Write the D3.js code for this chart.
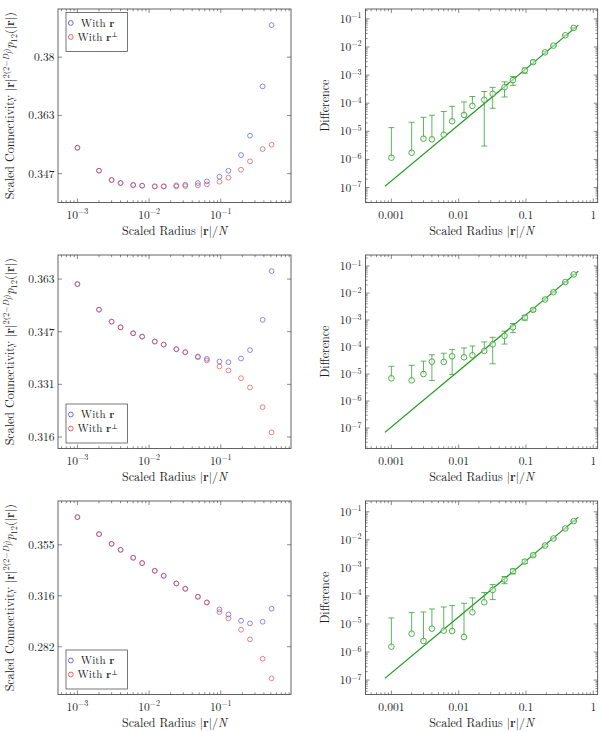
<!DOCTYPE html>
<html>
<head>
<meta charset="utf-8">
<script src="https://cdn.jsdelivr.net/npm/d3@7"></script>
<style>
  body { margin: 0; background: #fff; }
  text { font-family: "Latin Modern Roman", "Liberation Serif", "DejaVu Serif", serif; fill: #222; }
</style>
</head>
<body>
<div id="chart"></div>
<script>
// scaled radius |r|/N, shared by every panel
const radius = [0.001, 0.002, 0.003, 0.004, 0.006, 0.008, 0.012, 0.016, 0.024, 0.032,
                0.048, 0.064, 0.096, 0.128, 0.192, 0.256, 0.384, 0.512];

// scaled connectivity, row 1
const connR1 = [0.35392, 0.34756, 0.34500, 0.34419, 0.34364, 0.34346, 0.34328, 0.34328, 0.34355, 0.34373,
                0.34419, 0.34464, 0.34591, 0.34756, 0.35188, 0.35730, 0.37150, 0.38994];
const connPerp1 = [0.35392, 0.34756, 0.34500, 0.34419, 0.34364, 0.34346, 0.34328, 0.34328, 0.34328, 0.34337,
                   0.34355, 0.34382, 0.34454, 0.34564, 0.34783, 0.35013, 0.35355, 0.35476];
// row 2
const connR2 = [0.36149, 0.35349, 0.34981, 0.34809, 0.34627, 0.34526, 0.34376, 0.34286, 0.34147, 0.34058,
                0.33929, 0.33861, 0.33782, 0.33762, 0.33871, 0.34121, 0.35037, 0.36562];
const connPerp2 = [0.36149, 0.35349, 0.34981, 0.34809, 0.34627, 0.34526, 0.34376, 0.34286, 0.34147, 0.34058,
                   0.33909, 0.33812, 0.33635, 0.33518, 0.33293, 0.33022, 0.32461, 0.31751];
// row 3
const connR3 = [0.37768, 0.36346, 0.35561, 0.35083, 0.34455, 0.34044, 0.33459, 0.33083, 0.32515, 0.32126,
                0.31552, 0.31150, 0.30662, 0.30318, 0.29888, 0.29709, 0.29821, 0.30708];
const connPerp3 = [0.37768, 0.36346, 0.35561, 0.35083, 0.34455, 0.34044, 0.33459, 0.33083, 0.32515, 0.32126,
                   0.31552, 0.31150, 0.30479, 0.30046, 0.29287, 0.28654, 0.27431, 0.26240];

// difference and its error bars
const diff1 = [1.15e-6, 1.73e-6, 5.47e-6, 5.18e-6, 7.6e-6, 2.28e-5, 3.83e-5, 8.03e-5, 1.32e-4, 2.16e-4,
               3.72e-4, 6.63e-4, 1.47e-3, 2.91e-3, 6.45e-3, 1.12e-2, 2.61e-2, 4.77e-2];
const diffErr1 = [1.24e-5, 1.92e-5, 2.6e-5, 3.2e-5, 4.3e-5, 5.5e-5, 7.3e-5, 9.3e-5, 1.29e-4, 1.5e-4,
                  2.05e-4, 2.3e-4, 3.0e-4, 3.5e-4, 4.5e-4, 5e-4, 7e-4, 9e-4];
const diff2 = [6.95e-6, 5.85e-6, 1.0e-5, 2.88e-5, 2.8e-5, 4.55e-5, 4.18e-5, 4.96e-5, 7.18e-5, 1.27e-4,
               2.59e-4, 5.43e-4, 1.24e-3, 2.39e-3, 5.78e-3, 1.08e-2, 2.55e-2, 4.91e-2];
const diffErr2 = [1.24e-5, 1.52e-5, 2.0e-5, 2.3e-5, 3.1e-5, 3.6e-5, 5.1e-5, 6.0e-5, 8.3e-5, 1.03e-4,
                  1.3e-4, 2.0e-4, 2.5e-4, 3e-4, 4e-4, 5e-4, 7e-4, 9e-4];
const diff3 = [1.55e-6, 4.52e-6, 2.47e-6, 6.81e-6, 5.78e-6, 5.62e-6, 3.43e-6, 2.61e-5, 5.94e-5, 1.64e-4,
               3.83e-4, 7.6e-4, 1.68e-3, 2.83e-3, 6.28e-3, 1.12e-2, 2.54e-2, 4.64e-2];
const diffErr3 = [1.49e-5, 2.09e-5, 2.43e-5, 2.75e-5, 3.47e-5, 3.95e-5, 5.13e-5, 5.9e-5, 7.3e-5, 9e-5,
                  1.1e-4, 1.5e-4, 2.5e-4, 3e-4, 4e-4, 5e-4, 7e-4, 9e-4];

// straight reference line (end points)
const fitX = [0.0008, 0.6];
const fitY1 = [1.1e-7, 0.060];
const fitY2 = [6.9e-8, 0.065];
const fitY3 = [1.15e-7, 0.0645];

// tick values
const connTicks1 = [0.34674, 0.36308, 0.38019];
const connTicks2 = [0.31623, 0.33113, 0.34674, 0.36308];
const connTicks3 = [0.28184, 0.31623, 0.35481];
const radiusTicks = [0.001, 0.01, 0.1];
const radiusTickExp = ["−3", "−2", "−1"];
const radiusTicksR = [0.001, 0.01, 0.1, 1];
const radiusTickLabelsR = ["0.001", "0.01", "0.1", "1"];
const diffTicks = [1e-7, 1e-6, 1e-5, 1e-4, 1e-3, 1e-2, 1e-1];
const diffTickExp = ["−7", "−6", "−5", "−4", "−3", "−2", "−1"];

const blue = "#5252dd", red = "#e24a4a", green = "#3aa53a", greenLine = "#1f9a1f";
const axisColor = "#3c3c3c";

const svg = d3.select("#chart").append("svg")
    .attr("width", 603)
    .attr("height", 732);

const rowTop = [9, 255, 501];
const boxH = 193.5;
const leftX = [58, 291], rightX = [365.5, 597.7];

// pgfplots-like limits: data range plus 10% on each side (log space)
function enlarge(vals) {
  const [a, b] = d3.extent(vals.map(Math.log10));
  const p = (b - a) * 0.1;
  return [10 ** (a - p), 10 ** (b + p)];
}

function logMinor(domain) {
  const out = [];
  const k0 = Math.floor(Math.log10(domain[0])), k1 = Math.ceil(Math.log10(domain[1]));
  for (let k = k0; k <= k1; k++)
    for (let m = 2; m <= 9; m++) {
      const v = m * 10 ** k;
      if (v > domain[0] && v < domain[1]) out.push(v);
    }
  return out;
}

function drawFrame(g, x, y, xMajor, yMajor, xMinor, yMinor) {
  const [x0, x1] = x.range(), [y0, y1] = y.range();
  const tk = g.append("g").attr("stroke", axisColor).attr("stroke-width", 0.6);
  const vt = (v, len) => {
    tk.append("line").attr("x1", x(v)).attr("x2", x(v)).attr("y1", y0).attr("y2", y0 - len);
    tk.append("line").attr("x1", x(v)).attr("x2", x(v)).attr("y1", y1).attr("y2", y1 + len);
  };
  const ht = (v, len) => {
    tk.append("line").attr("y1", y(v)).attr("y2", y(v)).attr("x1", x0).attr("x2", x0 + len);
    tk.append("line").attr("y1", y(v)).attr("y2", y(v)).attr("x1", x1).attr("x2", x1 - len);
  };
  xMajor.forEach(v => vt(v, 4));
  xMinor.forEach(v => vt(v, 2.2));
  yMajor.forEach(v => ht(v, 4));
  yMinor.forEach(v => ht(v, 2.2));
  g.append("rect")
    .attr("x", x0).attr("y", y1)
    .attr("width", x1 - x0).attr("height", y0 - y1)
    .attr("fill", "none").attr("stroke", axisColor).attr("stroke-width", 0.8);
}

function xLabel(g, cx, y) {
  const t = g.append("text").attr("x", cx).attr("y", y)
    .attr("text-anchor", "middle").style("font-size", "12px");
  t.append("tspan").text("Scaled Radius |");
  t.append("tspan").attr("font-weight", "bold").text("r");
  t.append("tspan").text("|/");
  t.append("tspan").attr("font-style", "italic").text("N");
}

function powerLabel(g, x, y, exp, anchor) {
  const t = g.append("text").attr("x", x).attr("y", y)
    .attr("text-anchor", anchor).style("font-size", "11.5px");
  t.append("tspan").text("10");
  t.append("tspan").attr("dy", -4.5).style("font-size", "8px").text(exp);
}

function leftPanel(row, connR, connPerp, yTicks, legendTop) {
  const top = rowTop[row], bottom = top + boxH;
  const x = d3.scaleLog().domain(enlarge(radius)).range(leftX);
  const y = d3.scaleLog().domain(enlarge(connR.concat(connPerp))).range([bottom, top]);
  const g = svg.append("g");

  drawFrame(g, x, y, radiusTicks, yTicks, logMinor(x.domain()), []);

  // tick labels
  radiusTicks.forEach((v, i) => powerLabel(g, x(v), bottom + 16, radiusTickExp[i], "middle"));
  g.selectAll(".ytl").data(yTicks).join("text")
    .attr("x", leftX[0] - 3.5).attr("y", d => y(d) + 4)
    .attr("text-anchor", "end").style("font-size", "11.5px")
    .text(d => d3.format(".3~f")(d));

  // series
  [[connR, blue], [connPerp, red]].forEach(([vals, col]) => {
    g.append("g").selectAll("circle")
      .data(radius.map((r, i) => [r, vals[i]]))
      .join("circle")
        .attr("cx", d => x(d[0])).attr("cy", d => y(d[1])).attr("r", 2.4)
        .attr("fill", "none").attr("stroke", col).attr("stroke-width", 0.85)
        .attr("stroke-opacity", 0.8);
  });

  // legend
  const lx = leftX[0] + 8, ly = legendTop ? top + 3.5 : bottom - 5.5 - 39;
  const lg = g.append("g").attr("transform", `translate(${lx},${ly})`);
  lg.append("rect").attr("width", 61.5).attr("height", 39)
    .attr("fill", "#fff").attr("stroke", axisColor).attr("stroke-width", 0.7);
  [[blue, false], [red, true]].forEach(([col, perp], i) => {
    const cy = 10.5 + i * 14;
    lg.append("circle").attr("cx", 4.8).attr("cy", cy).attr("r", 2.4)
      .attr("fill", "none").attr("stroke", col).attr("stroke-width", 0.85);
    const t = lg.append("text").attr("x", 31.7).attr("y", cy + 3.8)
      .attr("text-anchor", "middle").style("font-size", "11px");
    t.append("tspan").text("With ");
    t.append("tspan").attr("font-weight", "bold").text("r");
    if (perp) t.append("tspan").attr("dy", -3.5).style("font-size", "7px").text("⊥");
  });

  // axis labels
  xLabel(g, (leftX[0] + leftX[1]) / 2, bottom + 32);
  const t = g.append("text")
    .attr("transform", `translate(14,${(top + bottom) / 2}) rotate(-90)`)
    .attr("text-anchor", "middle").style("font-size", "12px");
  t.append("tspan").text("Scaled Connectivity  |");
  t.append("tspan").attr("font-weight", "bold").text("r");
  t.append("tspan").text("|");
  t.append("tspan").attr("dy", -5).style("font-size", "8.5px").text("2(2−");
  t.append("tspan").style("font-size", "8.5px").attr("font-style", "italic").text("D");
  t.append("tspan").attr("dy", 2).style("font-size", "6px").attr("font-style", "italic").text("f");
  t.append("tspan").attr("dy", -2).style("font-size", "8.5px").text(")");
  t.append("tspan").attr("dy", 5).attr("font-style", "italic").text("p");
  t.append("tspan").attr("dy", 2.5).style("font-size", "8.5px").text("12");
  t.append("tspan").attr("dy", -2.5).text("(|");
  t.append("tspan").attr("font-weight", "bold").text("r");
  t.append("tspan").text("|)");
}

function rightPanel(row, diff, diffErr, fitY) {
  const top = rowTop[row], bottom = top + boxH;
  const x = d3.scaleLog().domain(enlarge(radius.concat(fitX))).range(rightX);
  const tops = diff.map((v, i) => v + diffErr[i]);
  const y = d3.scaleLog().domain(enlarge(diff.concat(fitY, tops))).range([bottom, top]);
  const g = svg.append("g");

  drawFrame(g, x, y, radiusTicksR, diffTicks, logMinor(x.domain()), logMinor(y.domain()));

  radiusTicksR.forEach((v, i) => {
    g.append("text").attr("x", x(v)).attr("y", bottom + 16)
      .attr("text-anchor", "middle").style("font-size", "11.5px").text(radiusTickLabelsR[i]);
  });
  diffTicks.forEach((v, i) => powerLabel(g, rightX[0] - 4, y(v) + 4, diffTickExp[i], "end"));

  // reference line
  g.append("path")
    .datum(fitX.map((v, i) => [v, fitY[i]]))
    .attr("d", d3.line().x(d => x(d[0])).y(d => y(d[1])))
    .attr("fill", "none").attr("stroke", greenLine).attr("stroke-width", 1.3);

  // error bars
  const pts = radius.map((r, i) => ({ r, v: diff[i], e: diffErr[i] }));
  const eb = g.append("g").attr("stroke", green).attr("stroke-width", 0.9).attr("stroke-opacity", 0.9);
  pts.forEach(d => {
    const hasLow = d.v - d.e > 0;
    const yt = y(d.v + d.e), yb = hasLow ? y(d.v - d.e) : y(d.v);
    const px = x(d.r);
    eb.append("line").attr("x1", px).attr("x2", px).attr("y1", yt).attr("y2", yb);
    eb.append("line").attr("x1", px - 3).attr("x2", px + 3).attr("y1", yt).attr("y2", yt);
    if (hasLow) eb.append("line").attr("x1", px - 3).attr("x2", px + 3).attr("y1", yb).attr("y2", yb);
  });
  g.append("g").selectAll("circle").data(pts).join("circle")
    .attr("cx", d => x(d.r)).attr("cy", d => y(d.v)).attr("r", 2.8)
    .attr("fill", "#fff").attr("fill-opacity", 0.5)
    .attr("stroke", green).attr("stroke-width", 0.9);

  xLabel(g, (rightX[0] + rightX[1]) / 2, bottom + 32);
  g.append("text")
    .attr("transform", `translate(329,${(top + bottom) / 2}) rotate(-90)`)
    .attr("text-anchor", "middle").style("font-size", "12px")
    .text("Difference");
}

leftPanel(0, connR1, connPerp1, connTicks1, true);
leftPanel(1, connR2, connPerp2, connTicks2, false);
leftPanel(2, connR3, connPerp3, connTicks3, false);
rightPanel(0, diff1, diffErr1, fitY1);
rightPanel(1, diff2, diffErr2, fitY2);
rightPanel(2, diff3, diffErr3, fitY3);
</script>
</body>
</html>
